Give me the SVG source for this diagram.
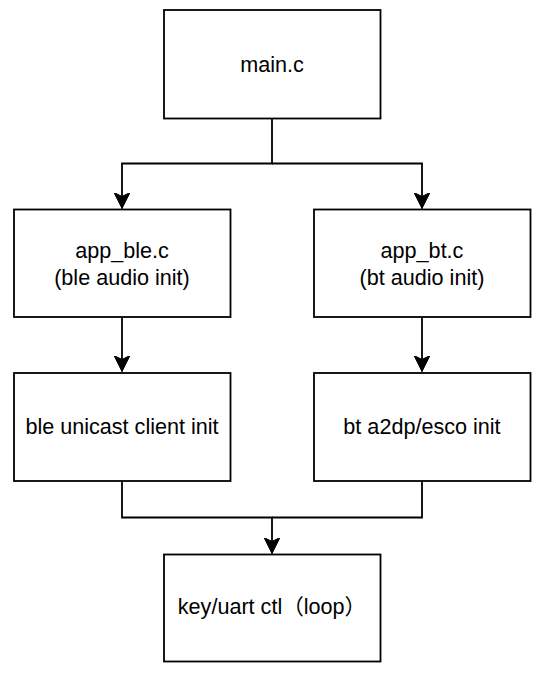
<svg xmlns="http://www.w3.org/2000/svg" width="544" height="684" viewBox="0 0 544 684">
<defs>
<style>
.box{fill:#fff;stroke:#000;stroke-width:1.8}
.lbl{font-family:"Liberation Sans","Noto Sans CJK SC",Arial,sans-serif;font-size:21.6px;fill:#000;text-anchor:middle}
.edge{fill:none;stroke:#000;stroke-width:1.8}
</style>
<marker id="arr" markerUnits="userSpaceOnUse" markerWidth="20" markerHeight="20" refX="16" refY="8" orient="auto" viewBox="0 0 20 16">
<path d="M16,8 L0,0 L4,8 L0,16 Z" fill="#000" stroke="#000" stroke-width="1"/>
</marker>
</defs>
<rect width="544" height="684" fill="#fff"/>
<g id="connectors">
<path class="edge" d="M272,119 V163.5 H122 V208.5" marker-end="url(#arr)"/>
<path class="edge" d="M272,163.5 H422 V208.5" marker-end="url(#arr)"/>
<path class="edge" d="M122,317 V371.5" marker-end="url(#arr)"/>
<path class="edge" d="M422,317 V371.5" marker-end="url(#arr)"/>
<path class="edge" d="M122,481 V517.5 H272 V553.5" marker-end="url(#arr)"/>
<path class="edge" d="M422,481 V517.5 H272"/>
</g>
<g id="main">
<rect class="box" x="164" y="10" width="216.5" height="108.5"/>
<text class="lbl" x="272" y="71.5">main.c</text>
</g>
<g id="app_ble">
<rect class="box" x="14" y="209.5" width="216.5" height="107.5"/>
<text class="lbl" x="122" y="258">app_ble.c</text>
<text class="lbl" x="122" y="284.5">(ble audio init)</text>
</g>
<g id="app_bt">
<rect class="box" x="314" y="209.5" width="216.5" height="107.5"/>
<text class="lbl" x="422" y="258">app_bt.c</text>
<text class="lbl" x="422" y="284.5">(bt audio init)</text>
</g>
<g id="ble_unicast">
<rect class="box" x="14" y="373" width="216.5" height="108"/>
<text class="lbl" x="122" y="434">ble unicast client init</text>
</g>
<g id="bt_a2dp">
<rect class="box" x="314" y="373" width="216.5" height="108"/>
<text class="lbl" x="422" y="434">bt a2dp/esco init</text>
</g>
<g id="key_uart">
<rect class="box" x="164" y="554.5" width="216.5" height="107"/>
<text class="lbl" x="272" y="613.5">key/uart ctl（loop）</text>
</g>
</svg>
